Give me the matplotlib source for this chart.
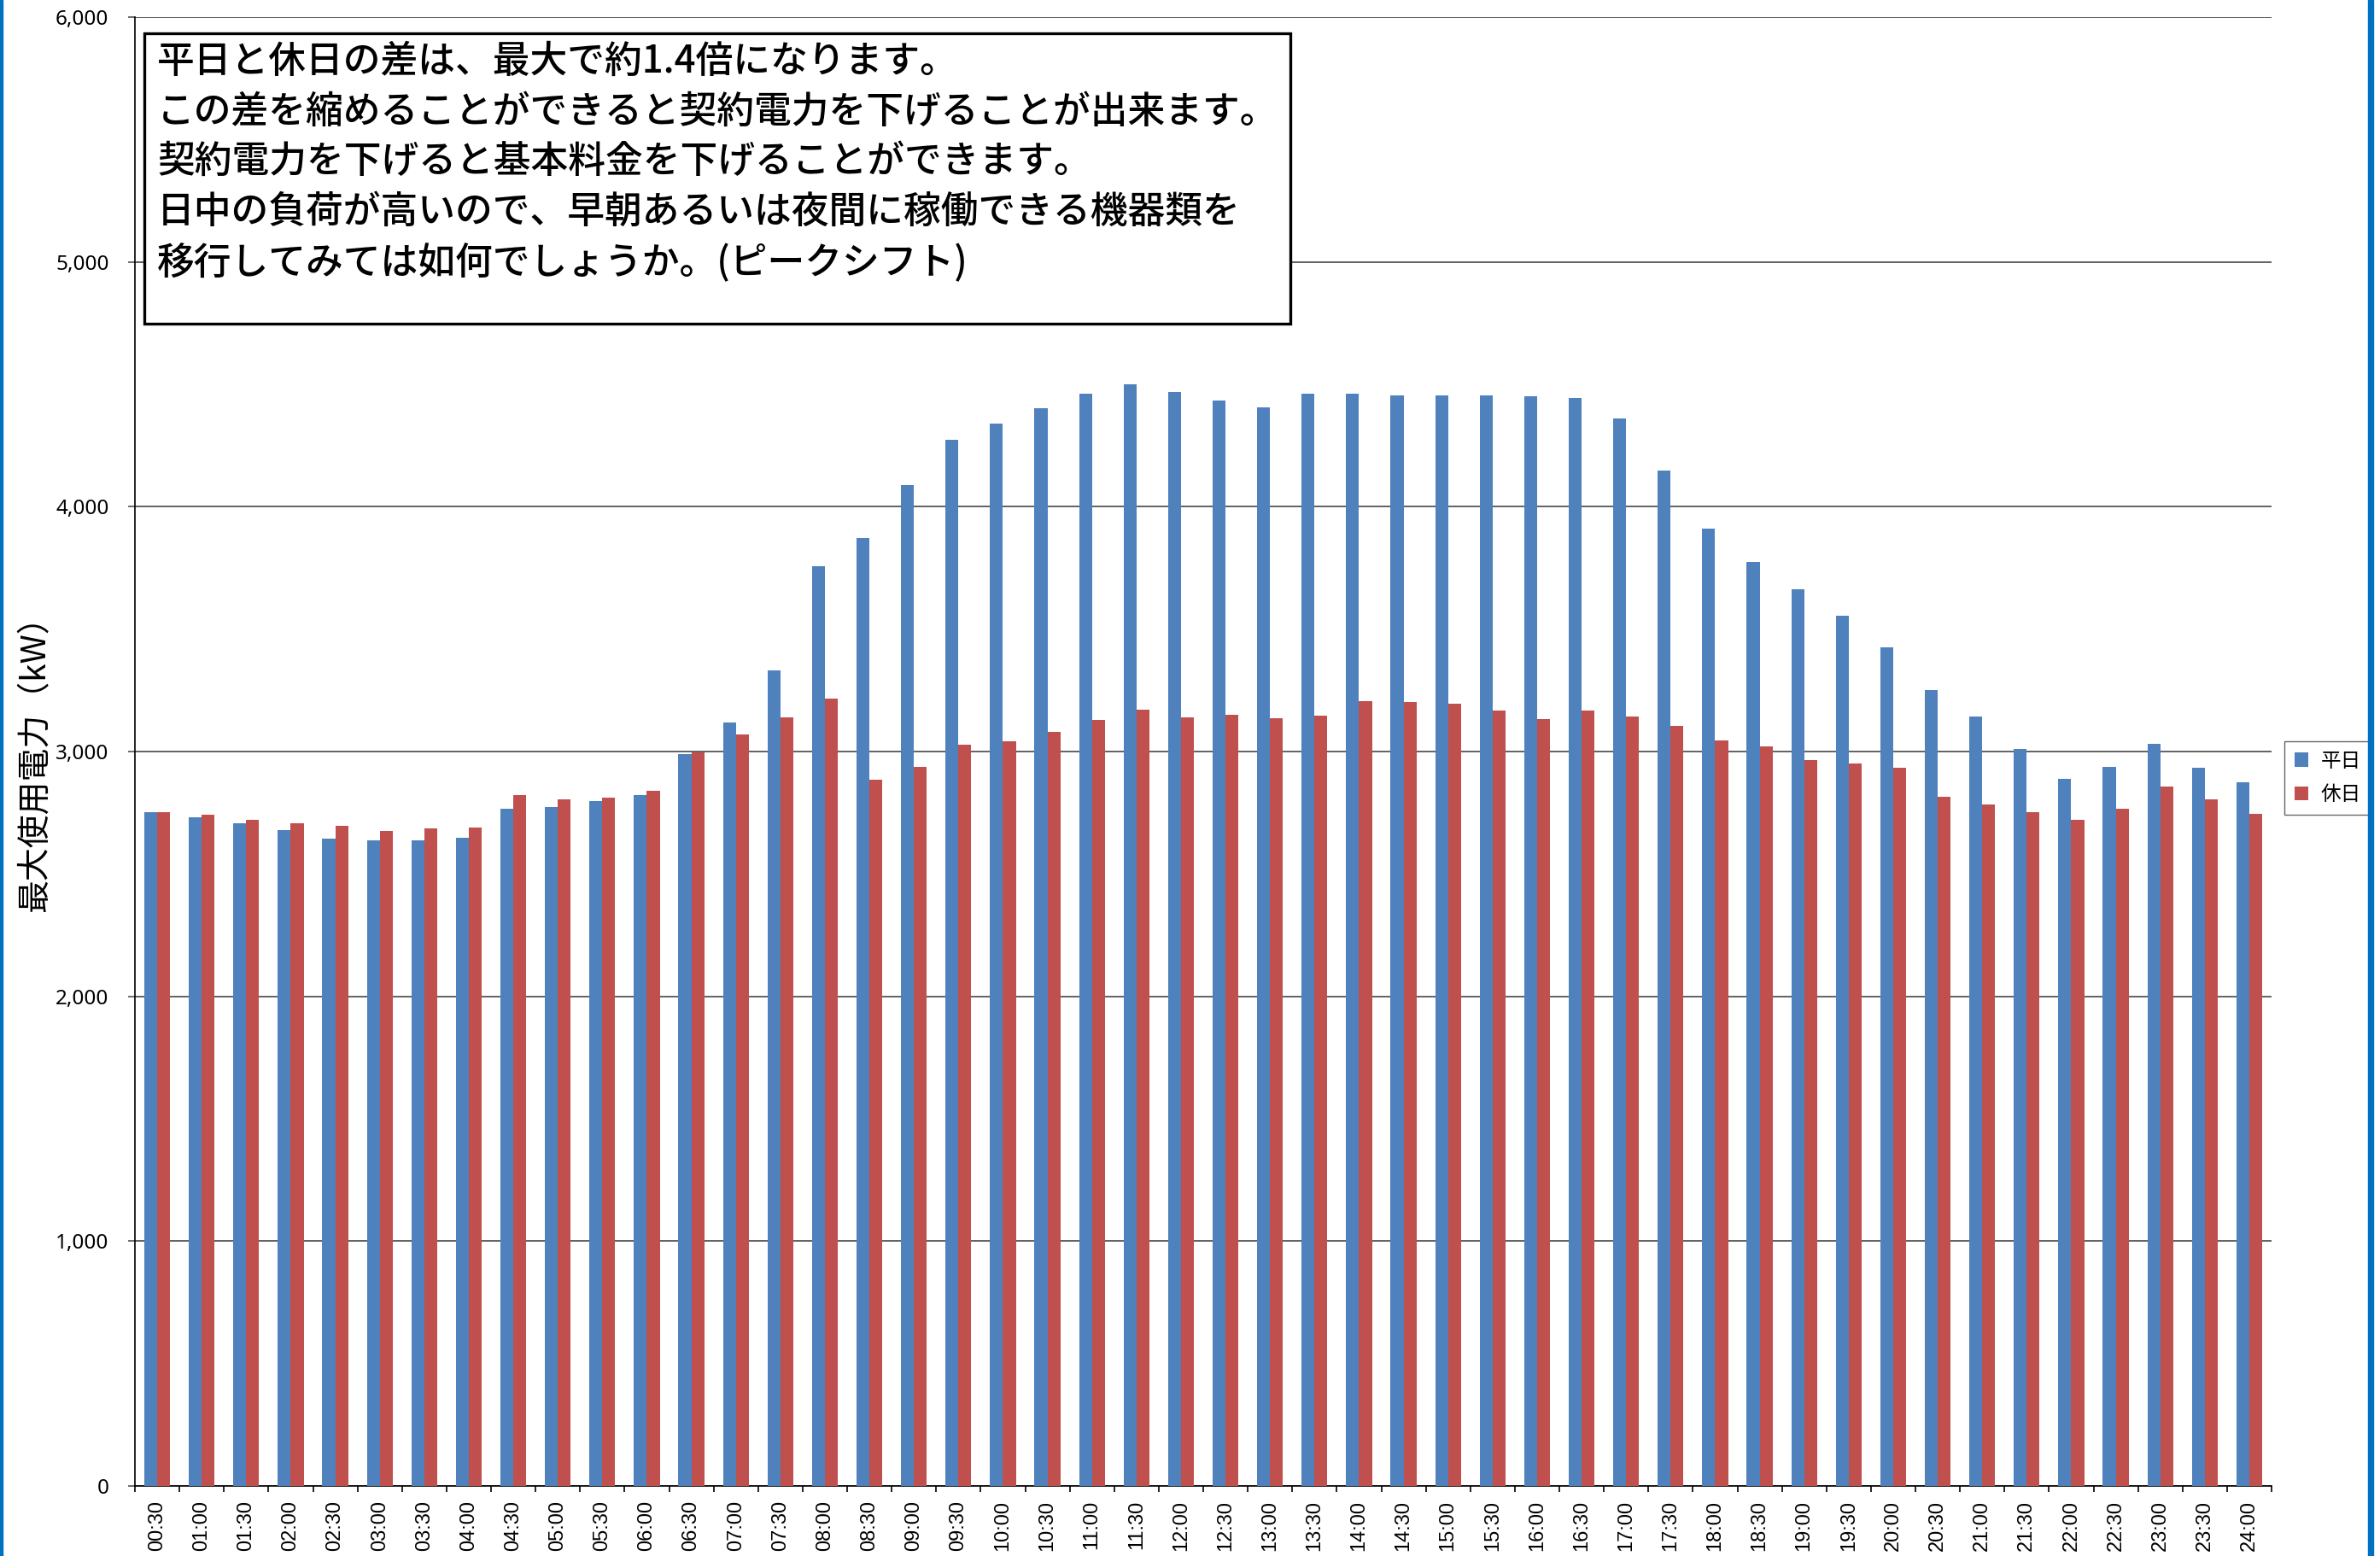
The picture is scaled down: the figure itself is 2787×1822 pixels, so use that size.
import numpy as np
import matplotlib
matplotlib.use("Agg")
import matplotlib.pyplot as plt
from matplotlib.patches import Rectangle
from matplotlib.ticker import FuncFormatter

plt.rcParams['font.family'] = ['Noto Sans CJK JP', 'DejaVu Sans']

# time slots (30 min)
times = ['00:30', '01:00', '01:30', '02:00', '02:30', '03:00', '03:30', '04:00',
         '04:30', '05:00', '05:30', '06:00', '06:30', '07:00', '07:30', '08:00',
         '08:30', '09:00', '09:30', '10:00', '10:30', '11:00', '11:30', '12:00',
         '12:30', '13:00', '13:30', '14:00', '14:30', '15:00', '15:30', '16:00',
         '16:30', '17:00', '17:30', '18:00', '18:30', '19:00', '19:30', '20:00',
         '20:30', '21:00', '21:30', '22:00', '22:30', '23:00', '23:30', '24:00']

# 平日 (weekday) max demand, kW
weekday = [2752, 2731, 2706, 2679, 2644, 2636, 2636, 2648,
           2767, 2773, 2797, 2822, 2991, 3119, 3331, 3757,
           3872, 4087, 4272, 4340, 4401, 4460, 4499, 4470,
           4433, 4405, 4460, 4463, 4453, 4455, 4453, 4450,
           4444, 4362, 4146, 3909, 3774, 3662, 3556, 3424,
           3250, 3144, 3009, 2888, 2936, 3030, 2932, 2876]

# 休日 (holiday) max demand, kW
holiday = [2751, 2742, 2720, 2708, 2695, 2674, 2687, 2691,
           2822, 2805, 2812, 2840, 2998, 3070, 3138, 3215,
           2885, 2936, 3027, 3042, 3079, 3128, 3170, 3141,
           3149, 3135, 3146, 3206, 3204, 3194, 3167, 3132,
           3166, 3143, 3104, 3044, 3021, 2964, 2951, 2933,
           2814, 2783, 2752, 2722, 2765, 2856, 2805, 2747]

note_lines = [
    '平日と休日の差は、最大で約1.4倍になります。',
    'この差を縮めることができると契約電力を下げることが出来ます。',
    '契約電力を下げると基本料金を下げることができます。',
    '日中の負荷が高いので、早朝あるいは夜間に稼働できる機器類を',
    '移行してみては如何でしょうか。(ピークシフト)',
]

W, H = 2787, 1822
fig = plt.figure(figsize=(W / 100, H / 100), dpi=100)
ax = fig.add_axes([158 / W, 1 - 1740 / H, (2660 - 158) / W, (1740 - 20) / H])

x = np.arange(len(times))
bw = 0.29
ax.bar(x - bw / 2, weekday, bw, color='#4F81BD', label='平日', zorder=3)
ax.bar(x + bw / 2, holiday, bw, color='#C0504D', label='休日', zorder=3)

ax.set_xlim(-0.5, len(times) - 0.5)
ax.set_ylim(0, 6000)
ax.set_yticks(np.arange(0, 6001, 1000))
ax.yaxis.set_major_formatter(FuncFormatter(lambda v, p: f'{int(v):,}'))
ax.grid(axis='y', color='#555555', linewidth=1.3, zorder=0)
ax.set_axisbelow(True)

for s in ['top', 'right']:
    ax.spines[s].set_visible(False)
for s in ['left', 'bottom']:
    ax.spines[s].set_color('black')
    ax.spines[s].set_linewidth(1.2)

ax.set_xticks(x)
ax.set_xticklabels(times, rotation=90, fontsize=17, family=['Liberation Sans', 'DejaVu Sans'])
ax.set_xticks(np.arange(-0.5, len(times), 1), minor=True)
ax.tick_params(axis='x', which='major', length=0, pad=12)
ax.tick_params(axis='x', which='minor', length=5, width=1.2, color='black', direction='out')
ax.tick_params(axis='y', length=6, width=1.2, color='#555555', pad=16)
for lab in ax.get_yticklabels():
    lab.set_fontsize(17.5)
    lab.set_family(['Noto Sans', 'DejaVu Sans'])

ax.set_ylabel('最大使用電力（kW）', fontsize=28)
ax.yaxis.set_label_coords(-0.0385, 0.497)

leg = ax.legend(loc='center left', bbox_to_anchor=(1.006, 0.482), borderaxespad=0,
                fontsize=17, frameon=True, fancybox=False, handlelength=0.7,
                handleheight=0.7, handletextpad=0.6, labelspacing=0.7,
                borderpad=0.5)
leg.get_frame().set_edgecolor('#404040')
leg.get_frame().set_linewidth(1.0)

# note box
ax.add_patch(Rectangle((11 / 2502, (1740 - 379) / 1720), 1342 / 2502, 340 / 1720,
                       transform=ax.transAxes, facecolor='white', edgecolor='black',
                       linewidth=2.4, zorder=5, clip_on=False))
line_y = [72, 131, 189, 248, 307]
for txt, yp in zip(note_lines, line_y):
    fig.text(184 / W, 1 - yp / H, txt, fontsize=31.5, fontweight='medium',
             ha='left', va='center', zorder=6)

# blue frame lines at figure edges
fig.add_artist(Rectangle((0, 0), 3 / W, 1, transform=fig.transFigure, color='#0070C0'))
fig.add_artist(Rectangle((2773 / W, 0), 6 / W, 1, transform=fig.transFigure, color='#0070C0'))

fig.savefig('out.png', dpi=100, facecolor='white')
